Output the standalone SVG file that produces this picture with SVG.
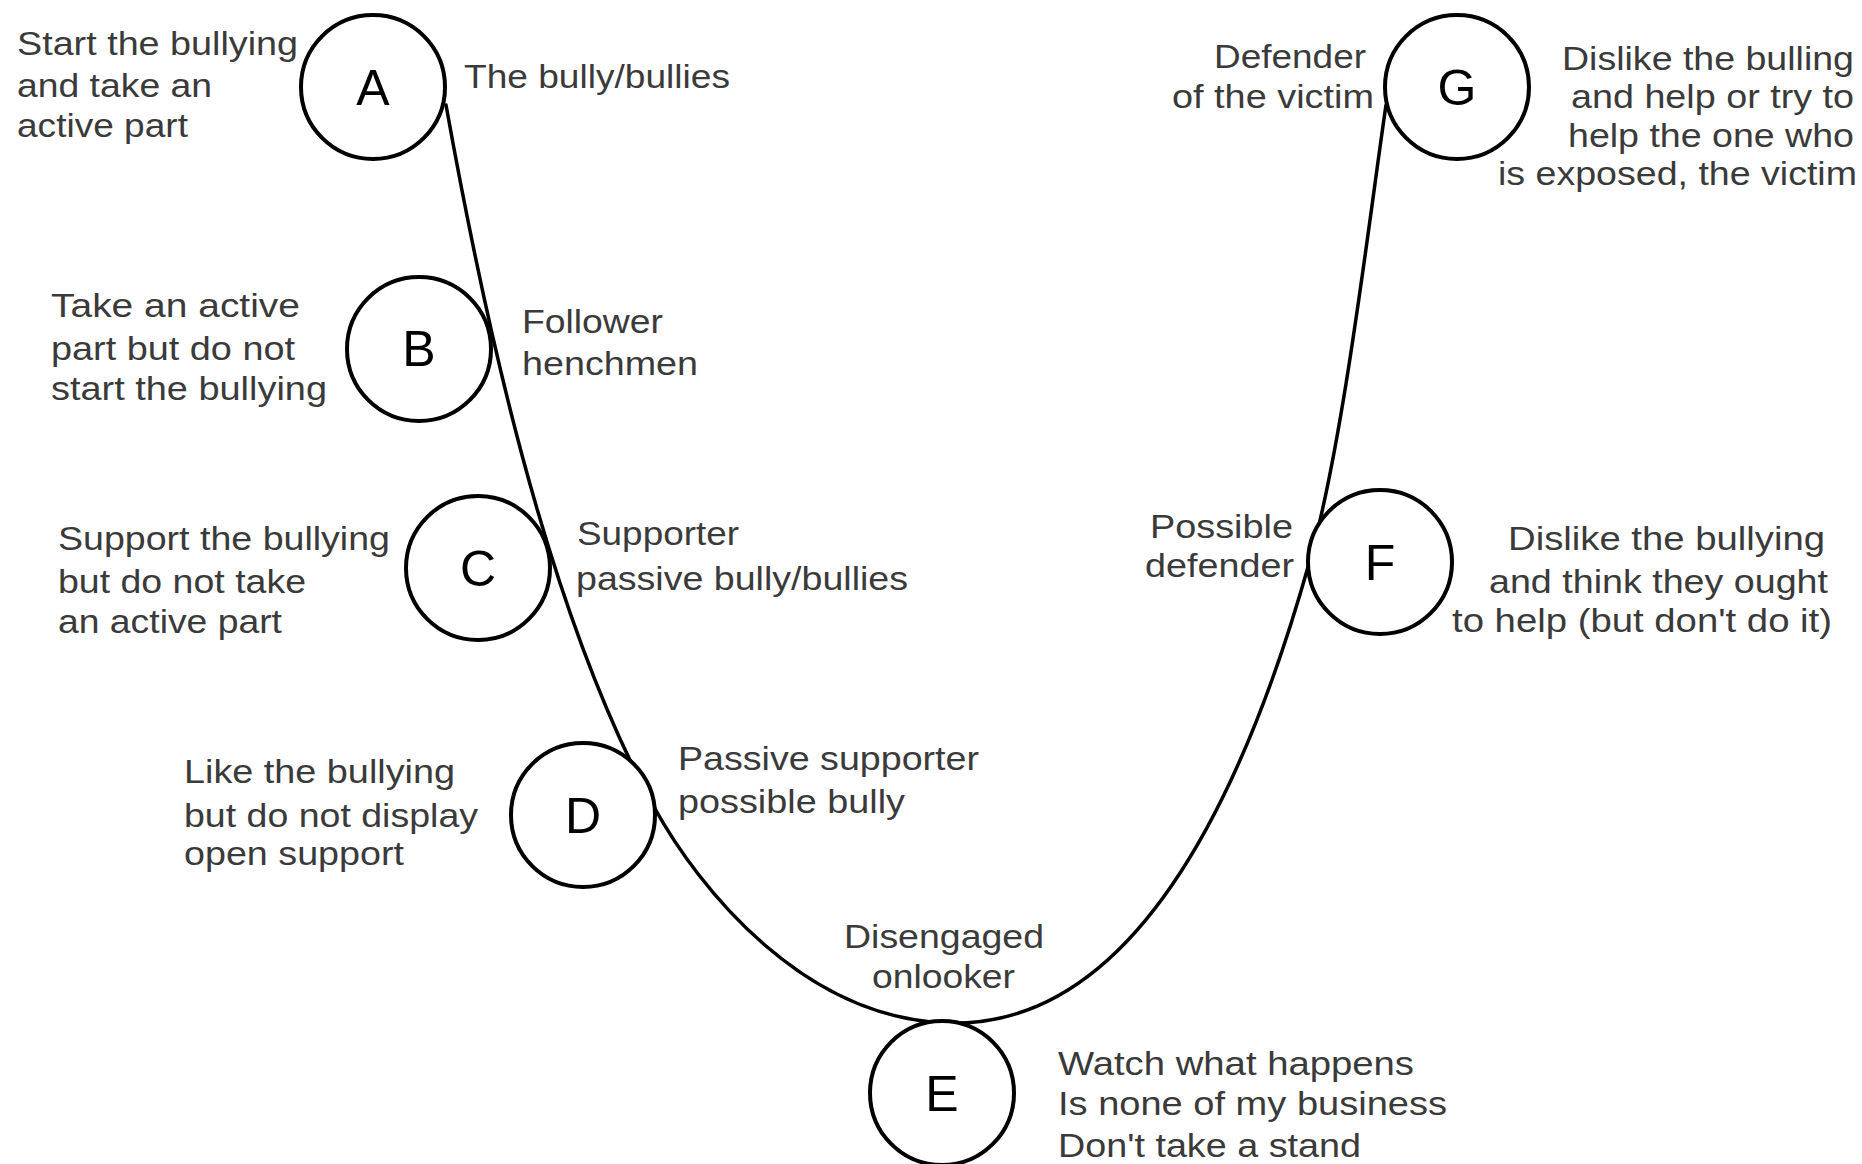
<svg xmlns="http://www.w3.org/2000/svg" width="1862" height="1164" viewBox="0 0 1862 1164">
<style>
.c{fill:#fff;stroke:#000;stroke-width:4}
.l{font-family:"Liberation Sans",Arial,sans-serif;font-size:50px;fill:#000;text-anchor:middle}
.t{font-family:"Liberation Sans",Arial,sans-serif;font-size:33px;fill:#3a3a3a}
.curve{fill:none;stroke:#000;stroke-width:3.5;stroke-linecap:round}
</style>
<rect width="1862" height="1164" fill="#fff"/>
<g id="connectors">
<path class="curve" d="M446 105 C482 305 544 607 654 807 C698 887 805 1023 955 1023 C1130 1023 1240 810 1310 560 C1343.6 440 1368.4 225 1386 105"/>
</g>
<g id="node-A">
<circle class="c" cx="373" cy="87" r="72"/>
<text class="l" x="373" y="105">A</text>
<text class="t" x="17" y="55" textLength="281" lengthAdjust="spacingAndGlyphs">Start the bullying</text>
<text class="t" x="17" y="97" textLength="195" lengthAdjust="spacingAndGlyphs">and take an</text>
<text class="t" x="17" y="137" textLength="171" lengthAdjust="spacingAndGlyphs">active part</text>
<text class="t" x="464" y="88" textLength="266" lengthAdjust="spacingAndGlyphs">The bully/bullies</text>
</g>
<g id="node-B">
<circle class="c" cx="419" cy="349" r="72"/>
<text class="l" x="419" y="366">B</text>
<text class="t" x="51" y="317" textLength="249" lengthAdjust="spacingAndGlyphs">Take an active</text>
<text class="t" x="51" y="360" textLength="244" lengthAdjust="spacingAndGlyphs">part but do not</text>
<text class="t" x="51" y="400" textLength="276" lengthAdjust="spacingAndGlyphs">start the bullying</text>
<text class="t" x="522" y="333" textLength="141" lengthAdjust="spacingAndGlyphs">Follower</text>
<text class="t" x="522" y="375" textLength="176" lengthAdjust="spacingAndGlyphs">henchmen</text>
</g>
<g id="node-C">
<circle class="c" cx="478" cy="568" r="72"/>
<text class="l" x="478" y="586">C</text>
<text class="t" x="58" y="550" textLength="332" lengthAdjust="spacingAndGlyphs">Support the bullying</text>
<text class="t" x="58" y="593" textLength="248" lengthAdjust="spacingAndGlyphs">but do not take</text>
<text class="t" x="58" y="633" textLength="224" lengthAdjust="spacingAndGlyphs">an active part</text>
<text class="t" x="577" y="545" textLength="162" lengthAdjust="spacingAndGlyphs">Supporter</text>
<text class="t" x="576" y="590" textLength="332" lengthAdjust="spacingAndGlyphs">passive bully/bullies</text>
</g>
<g id="node-D">
<circle class="c" cx="583" cy="815" r="72"/>
<text class="l" x="583" y="833">D</text>
<text class="t" x="184" y="783" textLength="271" lengthAdjust="spacingAndGlyphs">Like the bullying</text>
<text class="t" x="184" y="827" textLength="294" lengthAdjust="spacingAndGlyphs">but do not display</text>
<text class="t" x="184" y="865" textLength="220" lengthAdjust="spacingAndGlyphs">open support</text>
<text class="t" x="678" y="770" textLength="301" lengthAdjust="spacingAndGlyphs">Passive supporter</text>
<text class="t" x="678" y="813" textLength="227" lengthAdjust="spacingAndGlyphs">possible bully</text>
</g>
<g id="node-E">
<circle class="c" cx="942" cy="1093" r="72"/>
<text class="l" x="942" y="1111">E</text>
<text class="t" x="844" y="948" textLength="200" lengthAdjust="spacingAndGlyphs">Disengaged</text>
<text class="t" x="872" y="988" textLength="143" lengthAdjust="spacingAndGlyphs">onlooker</text>
<text class="t" x="1058" y="1075" textLength="356" lengthAdjust="spacingAndGlyphs">Watch what happens</text>
<text class="t" x="1058" y="1115" textLength="389" lengthAdjust="spacingAndGlyphs">Is none of my business</text>
<text class="t" x="1058" y="1157" textLength="303" lengthAdjust="spacingAndGlyphs">Don't take a stand</text>
</g>
<g id="node-F">
<circle class="c" cx="1380" cy="562" r="72"/>
<text class="l" x="1380" y="580">F</text>
<text class="t" x="1150" y="538" textLength="143" lengthAdjust="spacingAndGlyphs">Possible</text>
<text class="t" x="1145" y="577" textLength="149" lengthAdjust="spacingAndGlyphs">defender</text>
<text class="t" x="1508" y="550" textLength="317" lengthAdjust="spacingAndGlyphs">Dislike the bullying</text>
<text class="t" x="1489" y="593" textLength="339" lengthAdjust="spacingAndGlyphs">and think they ought</text>
<text class="t" x="1452" y="632" textLength="380" lengthAdjust="spacingAndGlyphs">to help (but don't do it)</text>
</g>
<g id="node-G">
<circle class="c" cx="1457" cy="87" r="72"/>
<text class="l" x="1457" y="105">G</text>
<text class="t" x="1214" y="68" textLength="152" lengthAdjust="spacingAndGlyphs">Defender</text>
<text class="t" x="1172" y="108" textLength="202" lengthAdjust="spacingAndGlyphs">of the victim</text>
<text class="t" x="1562" y="70" textLength="292" lengthAdjust="spacingAndGlyphs">Dislike the bulling</text>
<text class="t" x="1571" y="108" textLength="283" lengthAdjust="spacingAndGlyphs">and help or try to</text>
<text class="t" x="1568" y="147" textLength="286" lengthAdjust="spacingAndGlyphs">help the one who</text>
<text class="t" x="1498" y="185" textLength="359" lengthAdjust="spacingAndGlyphs">is exposed, the victim</text>
</g>
</svg>
